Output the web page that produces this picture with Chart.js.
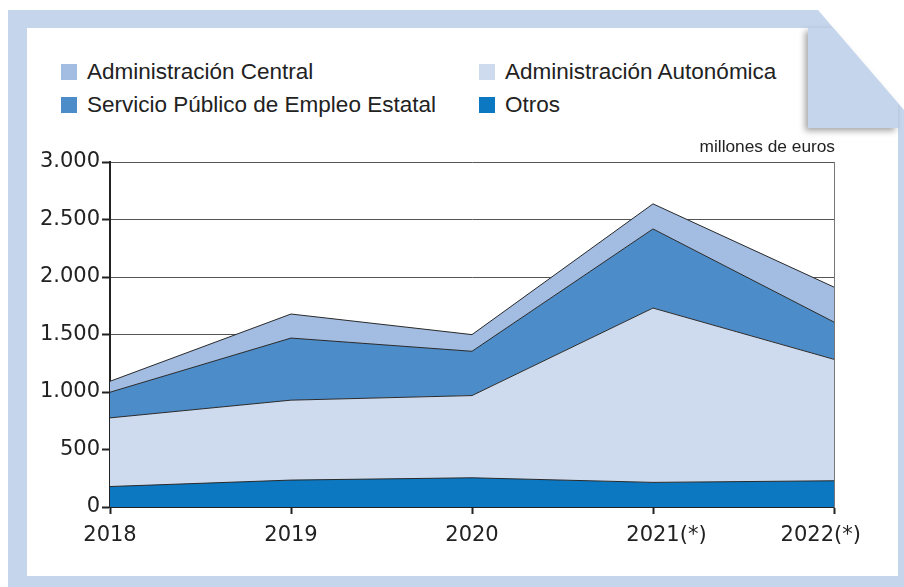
<!DOCTYPE html>
<html>
<head>
<meta charset="utf-8">
<script src="https://cdn.jsdelivr.net/npm/chart.js@4"></script>
<style>
  html, body { margin: 0; padding: 0; background: #fff; }
  body { width: 904px; height: 587px; position: relative; overflow: hidden; font-family: "Liberation Sans", Arial, sans-serif; }
  #frame { position: absolute; left: 8px; top: 10px; width: 896px; height: 577px; background: #c5d5ec;
           clip-path: polygon(0 0, 810px 0, 896px 100px, 896px 577px, 0 577px); }
  #panel { position: absolute; left: 27px; top: 28px; width: 871px; height: 548px; background: #fff; }
  #foldWrap { position: absolute; left: 808px; top: 28px; width: 90px; height: 100px;
              filter: drop-shadow(-3px 3px 3px rgba(0,0,0,0.35)); }
  #fold { width: 90px; height: 100px; background: #c5d5ec;
          clip-path: polygon(0 0, 25.5px 0, 90px 75px, 90px 100px, 0 100px); }
  #legend { position: absolute; left: 0; top: 0; }
  .item { position: absolute; font-size: 22.5px; line-height: 23px; color: #222; white-space: nowrap; }
  .item i { position: absolute; width: 16px; height: 16px; left: -26px; top: 4px; }
  #chart { position: absolute; left: 0; top: 0; }
</style>
</head>
<body>
<div id="frame"></div>
<div id="panel"></div>
<div id="foldWrap"><div id="fold"></div></div>
<div id="legend"></div>
<canvas id="chart" width="904" height="587"></canvas>
<script>
// millones de euros, stacked from the bottom up
const years = ['2018', '2019', '2020', '2021(*)', '2022(*)'];
const otros = [178, 234, 254, 214, 228];
const autonomica = [597, 695, 715, 1516, 1056];
const sepe = [223, 540, 385, 688, 324];
const central = [95, 209, 145, 218, 304];
const yTicks = [0, 500, 1000, 1500, 2000, 2500, 3000];

const colors = {
  otros: '#0b78c1',
  autonomica: '#cedbee',
  sepe: '#4c8cc9',
  central: '#a3bde2'
};

// legend: two columns, same order as the printed key
const legendItems = [
  { label: 'Administración Central', color: colors.central, x: 87, y: 60 },
  { label: 'Administración Autonómica', color: colors.autonomica, x: 505, y: 60 },
  { label: 'Servicio Público de Empleo Estatal', color: colors.sepe, x: 87, y: 93 },
  { label: 'Otros', color: colors.otros, x: 505, y: 93 }
];
const legend = document.getElementById('legend');
legendItems.forEach(it => {
  const d = document.createElement('div');
  d.className = 'item';
  d.style.left = it.x + 'px';
  d.style.top = it.y + 'px';
  d.innerHTML = '<i style="background:' + it.color + '"></i>' + it.label;
  legend.appendChild(d);
});

const fmt = v => String(v).replace(/\B(?=(\d{3})+(?!\d))/g, '.');

// year labels: the year sits centred on its tick and "(*)" hangs after it;
// the last one is pulled in so the mark starts at the tick
const yearLabels = {
  id: 'yearLabels',
  afterDraw(chart) {
    const ctx = chart.ctx;
    const xs = chart.scales.x;
    ctx.save();
    ctx.font = '21px "DejaVu Sans"';
    ctx.fillStyle = '#222';
    ctx.textAlign = 'left';
    ctx.textBaseline = 'alphabetic';
    years.forEach((lab, i) => {
      const base = lab.replace('(*)', '');
      const w = ctx.measureText(base).width;
      const last = i === years.length - 1;
      ctx.fillText(lab, xs.getPixelForTick(i) - (last ? w : w / 2), 541);
    });
    ctx.restore();
  }
};

// unit note above the plot
const unitNote = {
  id: 'unitNote',
  afterDraw(chart) {
    const ctx = chart.ctx;
    ctx.save();
    ctx.font = '17.3px "Liberation Sans", Arial';
    ctx.fillStyle = '#222';
    ctx.textAlign = 'right';
    ctx.fillText('millones de euros', chart.chartArea.right + 1, 152);
    ctx.restore();
  }
};

const area = (label, data, color, fill) => ({
  label, data, fill,
  backgroundColor: color,
  borderColor: '#2a2a2a',
  borderWidth: 1,
  pointRadius: 0,
  tension: 0
});

new Chart(document.getElementById('chart'), {
  type: 'line',
  data: {
    labels: years,
    datasets: [
      area('Otros', otros, colors.otros, 'origin'),
      area('Administración Autonómica', autonomica, colors.autonomica, '-1'),
      area('Servicio Público de Empleo Estatal', sepe, colors.sepe, '-1'),
      area('Administración Central', central, colors.central, '-1')
    ]
  },
  options: {
    responsive: false,
    animation: false,
    layout: { padding: { top: 162, left: 0, right: 0, bottom: 0 } },
    plugins: { legend: { display: false }, tooltip: { enabled: false } },
    scales: {
      x: {
        offset: false,
        grid: { drawOnChartArea: false, tickLength: 7, tickColor: '#222', tickWidth: 2 },
        border: { color: '#222', width: 2 },
        ticks: { color: 'rgba(0,0,0,0)', maxRotation: 0, autoSkip: false, font: { size: 21 } },
        afterFit: s => { s.height = 80; }
      },
      y: {
        stacked: true,
        min: 0, max: 3000,
        afterBuildTicks: s => { s.ticks = yTicks.map(v => ({ value: v })); },
        grid: { color: '#555', lineWidth: 1, tickLength: 8, tickColor: '#222', tickWidth: 2 },
        border: { color: '#222', width: 2 },
        ticks: { padding: 2, color: '#222', font: { family: '"DejaVu Sans"', size: 21 }, callback: v => fmt(v) },
        afterFit: s => { s.width = 110; }
      },
      y2: {
        position: 'right',
        min: 0, max: 3000,
        grid: { drawOnChartArea: false, drawTicks: false },
        border: { color: '#777', width: 1 },
        ticks: { display: false },
        afterFit: s => { s.width = 70; }
      }
    }
  },
  plugins: [yearLabels, unitNote]
});
</script>
</body>
</html>
